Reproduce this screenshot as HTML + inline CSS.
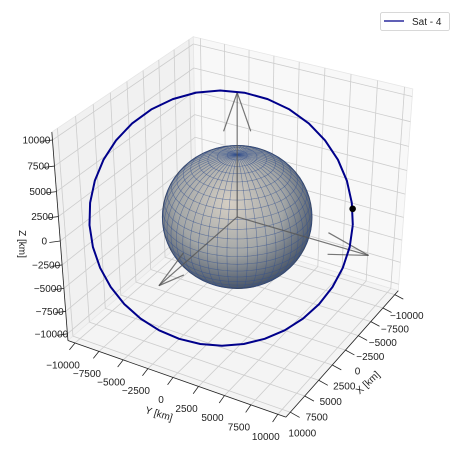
<!DOCTYPE html>
<html><head><meta charset="utf-8"><style>
html,body{margin:0;padding:0;background:#fff;}
svg{display:block;font-family:"Liberation Sans","DejaVu Sans",sans-serif;}
</style></head><body>
<svg id="chart" width="460" height="449" viewBox="0 0 460 449" xmlns="http://www.w3.org/2000/svg">
<g id="panes"></g>
<g id="grid"></g>
<g id="axes"></g>
<g id="labels"></g>
<g id="earth"></g>
<g id="arrows"></g>
<g id="orbit"></g>
<g>
<rect x="380.5" y="12.5" width="69" height="18" rx="2" fill="#fff" stroke="#ccc" stroke-width="0.8"/>
<line x1="384" y1="21" x2="404" y2="21" stroke="#00008b" stroke-width="1.3"/>
<text x="412" y="25" font-size="10" fill="#222">Sat - 4</text>
</g>
<text x="0" y="0" font-size="10" fill="#222" text-anchor="middle" transform="translate(19,244) rotate(90)">Z [km]</text>
<text x="0" y="0" font-size="10" fill="#222" text-anchor="middle" transform="translate(158,417) rotate(17)">Y [km]</text>
<text x="0" y="0" font-size="10" fill="#222" text-anchor="middle" transform="translate(370,385) rotate(-43)">X [km]</text>
</svg>
<script>
// ---- data ----
const tickValues = [-10000,-7500,-5000,-2500,0,2500,5000,7500,10000];
const tickLabels = ["\u221210000","\u22127500","\u22125000","\u22122500","0","2500","5000","7500","10000"];
const orbitX = [-4941,-4856,-4602,-4187,-3625,-2931,-2128,-1239,-292,685,1662,2609,3498,4301,4995,5557,5972,6226,6311,6226,5972,5557,4995,4301,3498,2609,1662,685,-292,-1239,-2128,-2931,-3625,-4187,-4602,-4856,-4941];
const orbitY = [8558,8409,7970,7252,6278,5077,3685,2146,506,-1187,-2880,-4520,-6059,-7451,-8652,-9626,-10344,-10783,-10932,-10783,-10344,-9626,-8652,-7451,-6059,-4520,-2880,-1187,506,2146,3685,5077,6278,7252,7970,8409,8558];
const orbitZ = [-860,1476,3742,5868,7789,9448,10793,11784,12392,12596,12392,11784,10793,9448,7789,5868,3742,1476,-860,-3196,-5462,-7588,-9509,-11168,-12513,-13504,-14112,-14316,-14112,-13504,-12513,-11168,-9509,-7588,-5462,-3196,-860];
const satX = [-4900];
const satY = [8490];
const satZ = [850];
const earthRadius = [6371];
const arrowLength = [12400];

// ---- projection ----
const NS="http://www.w3.org/2000/svg";
const L=10750, A=30*Math.PI/180, E=32*Math.PI/180, D=12;
function raw(nx,ny,nz){
  const rx=-Math.sin(A)*nx+Math.cos(A)*ny;
  const uy=-Math.sin(E)*Math.cos(A)*nx-Math.sin(E)*Math.sin(A)*ny+Math.cos(E)*nz;
  const dp=Math.cos(E)*Math.cos(A)*nx+Math.cos(E)*Math.sin(A)*ny+Math.sin(E)*nz;
  const s=D/(D-dp);
  return [rx*s,-uy*s,dp];
}
const refs=[[[1,1,-1],[285,410]],[[1,-1,-1],[66,345]],[[-1,1,-1],[404,297]],[[-1,-1,1],[188,36]],[[1,-1,1],[57,130]],[[-1,1,1],[410,88]]];
function fit(k){
  let n=refs.length,sx=0,sy=0,sxx=0,sxy=0;
  refs.forEach(r=>{const a=raw(...r[0])[k],b=r[1][k];sx+=a;sy+=b;sxx+=a*a;sxy+=a*b;});
  const m=(n*sxy-sx*sy)/(n*sxx-sx*sx);return [m,(sy-m*sx)/n];
}
const FX=fit(0),FY=fit(1);
function P(nx,ny,nz){const r=raw(nx,ny,nz);return [FX[1]+FX[0]*r[0],FY[1]+FY[0]*r[1],r[2]];}
function K(x,y,z){return P(x/L,y/L,z/L);}
function mk(tag,parent,attrs){const e=document.createElementNS(NS,tag);for(const k in attrs)e.setAttribute(k,attrs[k]);parent.appendChild(e);return e;}
function pts(a){return a.map(p=>p[0].toFixed(1)+","+p[1].toFixed(1)).join(" ");}

// panes
const panes=document.getElementById('panes');
const paneDefs=[
 {name:'pane-yz',c:[[1,-1,-1],[-1,-1,-1],[-1,-1,1],[1,-1,1]],f:'#f1f1f1'},
 {name:'pane-xz',c:[[-1,-1,-1],[-1,1,-1],[-1,1,1],[-1,-1,1]],f:'#f8f8f8'},
 {name:'pane-floor',c:[[1,1,-1],[1,-1,-1],[-1,-1,-1],[-1,1,-1]],f:'#f4f4f4'}];
paneDefs.forEach(d=>{
  const e=mk('polygon',panes,{points:pts(d.c.map(c=>P(...c))),fill:d.f,stroke:'#e6e6e6','stroke-width':0.8});
  
  
});
// grid
const grid=document.getElementById('grid');
function gl(a,b,name){const p=P(...a),q=P(...b);
  const e=mk('line',grid,{x1:p[0],y1:p[1],x2:q[0],y2:q[1],stroke:'#cdcdcd','stroke-width':0.8});
  
  }
tickValues.forEach(v=>{const t=v/L;
  gl([t,-1,-1],[t,-1,1],'grid-x-yz');gl([t,-1,-1],[t,1,-1],'grid-x-floor');
  gl([-1,t,-1],[-1,t,1],'grid-y-xz');gl([1,t,-1],[-1,t,-1],'grid-y-floor');
  gl([1,-1,t],[-1,-1,t],'grid-z-yz');gl([-1,-1,t],[-1,1,t],'grid-z-xz');
});
// axes lines + ticks
const axes=document.getElementById('axes');
function al(a,b,name,w){const p=P(...a),q=P(...b);
  const e=mk('line',axes,{x1:p[0],y1:p[1],x2:q[0],y2:q[1],stroke:'#222','stroke-width':w});
  
  }
al([1,-1,-1],[1,-1,1],'z-axis-line',0.8);
al([1,-1,-1],[1,1,-1],'y-axis-line',0.8);
al([1,1,-1],[-1,1,-1],'x-axis-line',0.8);
const labels=document.getElementById('labels');
function lab(x,y,s,name){const e=mk('text',labels,{x:x,y:y+3.5,'font-size':10,fill:'#222','text-anchor':'middle'});e.textContent=s;
  
  }
tickValues.forEach((v,i)=>{const t=v/L;
  al([1,-1,t],[1.06,-1.06,t],'z-tick',0.8);
  al([1,t,-1],[1.08,t,-1.02],'y-tick',0.8);
  al([t,1,-1],[t,1.08,-1.02],'x-tick',0.8);
  const pz=P(1,-1,t); lab(pz[0]-16,pz[1],tickLabels[i],'z-tick-label');
  const py=P(1,t,-1); lab(py[0]-12,py[1]+22,tickLabels[i],'y-tick-label');
  const px=P(t,1,-1); lab(px[0]+12,px[1]+21,tickLabels[i],'x-tick-label');
});
// earth
const earth=document.getElementById('earth');
const c0=K(0,0,0), rE=earthRadius[0]/L;
const rx=Math.abs(FX[0])*rE, ry=Math.abs(FY[0])*rE;
const defs=mk('defs',earth,{});
const rg=mk('radialGradient',defs,{id:'eg',cx:'0.45',cy:'0.4',r:'0.6'});
mk('stop',rg,{offset:'0','stop-color':'#d6cfc4'});
mk('stop',rg,{offset:'0.6','stop-color':'#a3a6a6'});
mk('stop',rg,{offset:'1','stop-color':'#4a5668'});
const eb=mk('ellipse',earth,{cx:c0[0],cy:c0[1],rx:rx,ry:ry,fill:'url(#eg)',stroke:'#3a4250','stroke-width':1});


const mesh=mk('g',earth,{stroke:'#34508e','stroke-opacity':0.6,'stroke-width':0.6,fill:'none'});


const R=earthRadius[0];
function sp(lat,lon){return [R*Math.cos(lat)*Math.cos(lon),R*Math.cos(lat)*Math.sin(lon),R*Math.sin(lat)];}
function drawCurve(list){let seg=[];const out=()=>{if(seg.length>1)mk('polyline',mesh,{points:pts(seg)});seg=[];};
  list.forEach(q=>{const p=K(...q);if(p[2]>-0.0)seg.push(p);else out();});out();}
for(let lo=0;lo<360;lo+=7.5){const l=[];for(let la=-90;la<=90;la+=5)l.push(sp(la*Math.PI/180,lo*Math.PI/180));drawCurve(l);}
for(let la=-82.5;la<90;la+=7.5){const l=[];for(let lo=0;lo<=360;lo+=5)l.push(sp(la*Math.PI/180,lo*Math.PI/180));drawCurve(l);}
// arrows
const arrows=document.getElementById('arrows');
function arrow(dir,perp,name){const Lk=arrowLength[0];
  const tip=dir.map(d=>d*Lk), o=K(0,0,0), t=K(...tip);
  const g=mk('g',arrows,{stroke:'#555','stroke-opacity':0.8,'stroke-width':1.2});
  
  
  mk('line',g,{x1:o[0],y1:o[1],x2:t[0],y2:t[1]});
  [1,-1].forEach(s=>{const h=K(...tip.map((v,i)=>v*0.7+s*perp[i]*Lk*0.09));mk('line',g,{x1:t[0],y1:t[1],x2:h[0],y2:h[1]});});
}
arrow([1,0,0],[0,0,1],'x-arrow');arrow([0,1,0],[0,0,1],'y-arrow');arrow([0,0,1],[0.5,-0.866,0],'z-arrow');
// orbit
const og=document.getElementById('orbit');
const path=orbitX.map((x,i)=>K(x,orbitY[i],orbitZ[i]));
const ol=mk('polyline',og,{points:pts(path),fill:'none',stroke:'#00008b','stroke-width':2,'stroke-linejoin':'round'});


satX.forEach((x,i)=>{const p=K(x,satY[i],satZ[i]);
  const c=mk('circle',og,{cx:p[0],cy:p[1],r:3.3,fill:'#000'});
  
  });
</script>
</body></html>
